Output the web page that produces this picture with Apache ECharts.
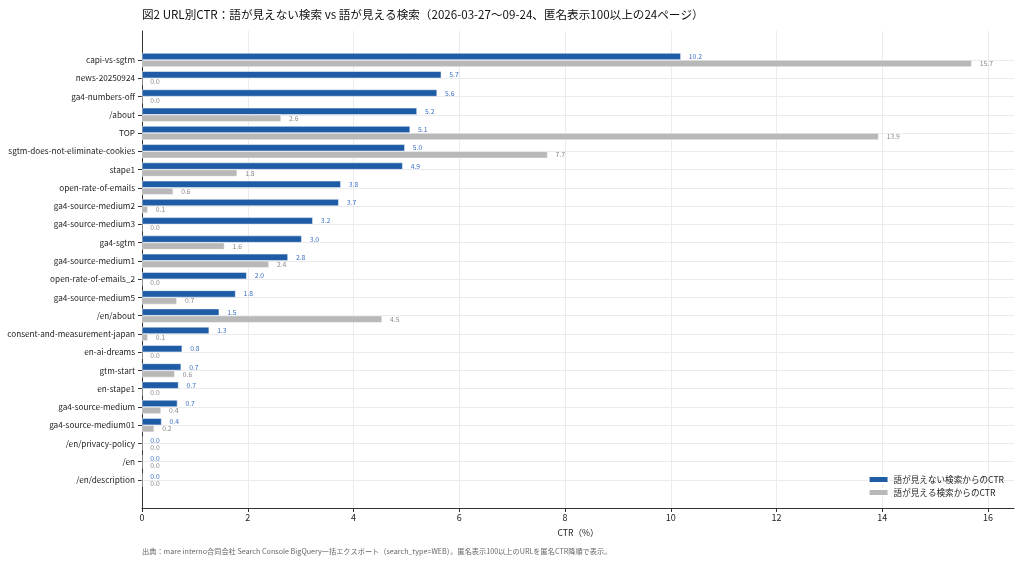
<!DOCTYPE html>
<html>
<head>
<meta charset="utf-8">
<script src="https://cdn.jsdelivr.net/npm/echarts@6/dist/echarts.min.js"></script>
<style>
html, body { margin: 0; padding: 0; background: #fff; }
#main { width: 1024px; height: 576px; }
</style>
</head>
<body>
<div id="main"></div>
<script>
var pages = ['capi-vs-sgtm', 'news-20250924', 'ga4-numbers-off', '/about', 'TOP',
	'sgtm-does-not-eliminate-cookies', 'stape1', 'open-rate-of-emails', 'ga4-source-medium2',
	'ga4-source-medium3', 'ga4-sgtm', 'ga4-source-medium1', 'open-rate-of-emails_2',
	'ga4-source-medium5', '/en/about', 'consent-and-measurement-japan', 'en-ai-dreams',
	'gtm-start', 'en-stape1', 'ga4-source-medium', 'ga4-source-medium01',
	'/en/privacy-policy', '/en', '/en/description'];
// CTR of queries hidden (anonymized) vs visible, in %
var hiddenCtr = [10.19, 5.66, 5.58, 5.20, 5.07, 4.97, 4.93, 3.76, 3.72, 3.23, 3.02, 2.76,
	1.98, 1.77, 1.46, 1.27, 0.76, 0.74, 0.69, 0.67, 0.37, 0, 0, 0];
var visibleCtr = [15.69, 0, 0, 2.63, 13.93, 7.67, 1.80, 0.59, 0.11, 0, 1.56, 2.40,
	0, 0.66, 4.54, 0.11, 0, 0.62, 0, 0.36, 0.23, 0, 0, 0];
var xMax = 16.49;
var seriesNames = ['語が見えない検索からのCTR', '語が見える検索からのCTR'];

var myChart = echarts.init(document.getElementById('main'));
var font = 'Noto Sans CJK JP';

option = {
	animation: false,
	textStyle: { fontFamily: font },
	title: [{
		text: '図2 URL別CTR：語が見えない検索 vs 語が見える検索（2026-03-27〜09-24、匿名表示100以上の24ページ）',
		left: 137,
		top: 4,
		textStyle: { fontSize: 11.6, fontWeight: 'normal', color: '#111', fontFamily: font }
	}, {
		text: '出典：mare interno合同会社 Search Console BigQuery一括エクスポート（search_type=WEB）。匿名表示100以上のURLを匿名CTR降順で表示。',
		left: 137,
		top: 543,
		textStyle: { fontSize: 7.2, fontWeight: 'normal', color: '#666', fontFamily: font }
	}],
	legend: {
		data: seriesNames,
		orient: 'vertical',
		right: 15,
		top: 470,
		itemWidth: 20,
		itemHeight: 7,
		itemGap: 4,
		icon: 'rect',
		textStyle: { fontSize: 8.6, color: '#222' }
	},
	grid: [
		{ left: 142, right: 10, top: 31, bottom: 68, outerBoundsMode: 'none' },
		{ left: 142, right: 10, top: 60, bottom: 96, outerBoundsMode: 'none' }
	],
	xAxis: [{
		gridIndex: 0,
		type: 'value',
		min: 0,
		max: xMax,
		interval: 2,
		name: 'CTR（%）',
		nameLocation: 'middle',
		nameGap: 20,
		nameTextStyle: { fontSize: 8.6, color: '#222' },
		axisLine: { show: true, lineStyle: { color: '#333', width: 1 } },
		axisTick: { show: true, length: 4, lineStyle: { color: '#333' } },
		axisLabel: { fontSize: 9, color: '#222', margin: 5, showMaxLabel: false },
		splitLine: { show: true, showMaxLine: false, lineStyle: { color: '#ebebeb', width: 1 } }
	}, {
		gridIndex: 1,
		type: 'value',
		min: 0,
		max: xMax,
		show: false
	}],
	yAxis: [{
		gridIndex: 0,
		type: 'value',
		min: 0,
		max: 1,
		axisLine: { show: true, lineStyle: { color: '#333', width: 1 } },
		axisTick: { show: false },
		axisLabel: { show: false },
		splitLine: { show: false }
	}, {
		gridIndex: 1,
		type: 'category',
		data: pages,
		inverse: true,
		boundaryGap: false,
		axisLine: { show: false },
		axisTick: { show: true, length: 4, interval: 0, lineStyle: { color: '#333' } },
		axisLabel: { interval: 0, fontSize: 8.2, color: '#222', margin: 7 },
		splitLine: { show: true, interval: 0, lineStyle: { color: '#ebebeb', width: 1 } }
	}],
	series: [{
		name: seriesNames[0],
		type: 'bar',
		xAxisIndex: 1,
		yAxisIndex: 1,
		data: hiddenCtr,
		barWidth: 7,
		barGap: 0,
		clip: false,
		itemStyle: { color: '#1f5ca6', borderColor: '#ffffff', borderWidth: 0.5 },
		label: {
			show: true,
			position: 'right',
			distance: 8,
			fontSize: 6.8,
			color: '#3a6fc4',
			formatter: function(p) { return p.value.toFixed(1); }
		}
	}, {
		name: seriesNames[1],
		type: 'bar',
		xAxisIndex: 1,
		yAxisIndex: 1,
		data: visibleCtr,
		barWidth: 7,
		barGap: 0,
		clip: false,
		itemStyle: { color: '#b8b8b8', borderColor: '#ffffff', borderWidth: 0.5 },
		label: {
			show: true,
			position: 'right',
			distance: 8,
			fontSize: 6.8,
			color: '#888',
			formatter: function(p) { return p.value.toFixed(1); }
		}
	}]
};
myChart.setOption(option);
</script>
</body>
</html>
